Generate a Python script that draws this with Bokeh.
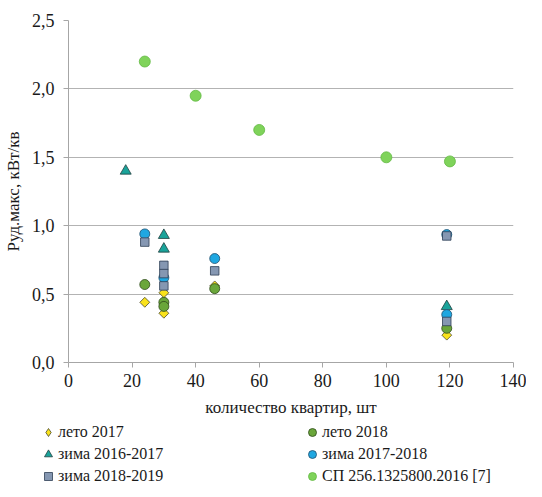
import math
from bokeh.plotting import figure
from bokeh.layouts import column
from bokeh.models import Legend, LegendItem, FixedTicker, CustomJSTickFormatter, Range1d
from bokeh.embed import file_html
from bokeh.resources import INLINE

# ---- data ----
x_ticks = [0, 20, 40, 60, 80, 100, 120, 140]
y_ticks = [0.0, 0.5, 1.0, 1.5, 2.0, 2.5]

leto2017_x = [24, 30, 30, 46, 119]
leto2017_y = [0.44, 0.51, 0.36, 0.56, 0.20]

leto2018_x = [24, 30, 30, 46, 119]
leto2018_y = [0.57, 0.44, 0.41, 0.54, 0.25]

zima1617_x = [18, 30, 30, 119]
zima1617_y = [1.40, 0.93, 0.83, 0.41]

zima1718_x = [24, 30, 46, 119, 119]
zima1718_y = [0.94, 0.62, 0.76, 0.35, 0.935]

zima1819_x = [24, 30, 30, 30, 46, 119, 119]
zima1819_y = [0.88, 0.71, 0.65, 0.56, 0.67, 0.30, 0.925]

sp_x = [24, 40, 60, 100, 120]
sp_y = [2.20, 1.95, 1.70, 1.50, 1.47]

labels = ["лето 2017", "лето 2018", "зима 2016-2017", "зима 2017-2018",
          "зима 2018-2019", "СП 256.1325800.2016 [7]"]

FONT = "'Liberation Serif', serif"

styles = [
    dict(marker="square", size=7, angle=math.pi / 4,
         fill_color="#f9e21b", line_color="#4a4a30", line_width=0.8),
    dict(marker="circle", size=10,
         fill_color="#6aa63a", line_color="#2f4a1a", line_width=0.8),
    dict(marker="triangle", size=11,
         fill_color="#1aa39a", line_color="#1f3f3f", line_width=0.8),
    dict(marker="circle", size=10,
         fill_color="#1fa7e1", line_color="#1f4f6f", line_width=0.8),
    dict(marker="square", size=8.5,
         fill_color="#8597b2", line_color="#2f3f55", line_width=0.8),
    dict(marker="circle", size=11,
         fill_color="#7fd35a", line_color="#62b943", line_width=0.8),
]
series = [(leto2017_x, leto2017_y), (leto2018_x, leto2018_y),
          (zima1617_x, zima1617_y), (zima1718_x, zima1718_y),
          (zima1819_x, zima1819_y), (sp_x, sp_y)]

# ---- main plot ----
p = figure(width=526, height=422, output_backend="svg", toolbar_location=None,
           x_range=Range1d(0, 140), y_range=Range1d(0, 2.5),
           min_border_left=58, min_border_right=13, min_border_top=20,
           min_border_bottom=60)
p.frame_align = False
p.outline_line_color = None
p.background_fill_color = "white"
p.border_fill_color = "white"

p.xgrid.grid_line_color = None
p.ygrid.grid_line_color = "#b3b3b3"
p.ygrid.grid_line_width = 1

for ax in (p.xaxis[0], p.yaxis[0]):
    ax.axis_line_color = "#a6a6a6"
    ax.major_tick_line_color = "#a6a6a6"
    ax.major_tick_out = 5
    ax.major_tick_in = 0
    ax.minor_tick_line_color = None
    ax.major_label_text_font = FONT
    ax.major_label_text_font_size = "18px"
    ax.major_label_text_color = "#1a1a1a"
    ax.axis_label_text_font = FONT
    ax.axis_label_text_font_size = "17px"
    ax.axis_label_text_font_style = "normal"
    ax.axis_label_text_color = "#1a1a1a"

p.xaxis.ticker = FixedTicker(ticks=x_ticks)
p.yaxis.ticker = FixedTicker(ticks=y_ticks)
p.yaxis.formatter = CustomJSTickFormatter(code="return tick.toFixed(1).replace('.', ',');")
p.xaxis.axis_label = "количество квартир, шт"
p.yaxis.axis_label = "Руд.макс, кВт/кв"
p.xaxis.major_label_standoff = 6
p.xaxis.axis_label_standoff = 8
p.yaxis.major_label_standoff = 9
p.yaxis.axis_label_standoff = 6

for (xs, ys), st in zip(series, styles):
    p.scatter(xs, ys, **st)

# ---- legend strip (own frame, so the legend is not clipped) ----
lg = figure(width=526, height=65, output_backend="svg", toolbar_location=None,
            x_range=Range1d(0, 140), y_range=Range1d(0, 2.5),
            x_axis_location=None, y_axis_location=None, min_border=0)
lg.frame_align = False
lg.outline_line_color = None
lg.grid.grid_line_color = None
lg.background_fill_color = "white"
lg.border_fill_color = "white"

legend_styles = [dict(st) for st in styles]
legend_styles[0]["marker"] = "diamond"
legend_styles[0].pop("angle")

legend_renderers = []
for (xs, ys), st in zip(series, legend_styles):
    r = lg.scatter(xs, ys, **st)
    r.visible = False
    legend_renderers.append(r)

items = [LegendItem(label=lab, renderers=[r]) for lab, r in zip(labels, legend_renderers)]
legend = Legend(items=items, orientation="horizontal", ncols=2,
                location=(38, 1), margin=0, padding=0,
                glyph_width=20, glyph_height=20, label_standoff=0,
                label_width=242, label_height=20, spacing=2,
                label_text_font=FONT, label_text_font_size="16px",
                label_text_color="#1a1a1a",
                inactive_fill_alpha=0,
                border_line_color=None, background_fill_alpha=0)
lg.add_layout(legend, "center")

layout = column(p, lg, spacing=0)
open("out.html", "w").write(file_html(layout, INLINE))
